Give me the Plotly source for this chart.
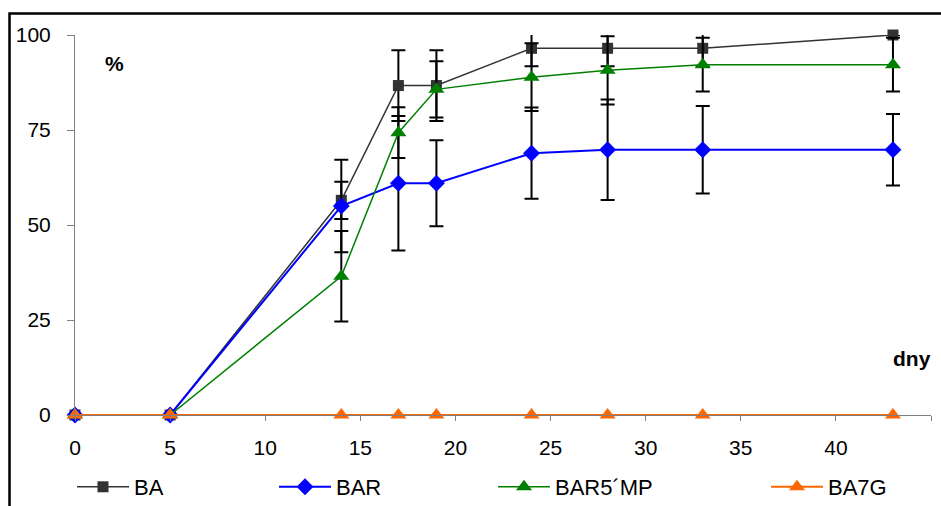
import plotly.graph_objects as go

days = [0, 5, 14, 17, 19, 24, 28, 33, 43]
ba = [0, 0, 56.5, 86.7, 86.7, 96.5, 96.5, 96.5, 100]
ba_err = [0, 0, 4.9, 9.3, 9.3, 4.7, 4.7, 4.8, 0]
bar = [0, 0, 55.0, 61.0, 61.0, 68.9, 69.8, 69.8, 69.8]
bar_err = [0, 0, 12.2, 17.7, 11.3, 12.0, 13.2, 11.5, 9.4]
bar5 = [0, 0, 36.5, 74.3, 85.7, 88.9, 90.7, 92.2, 92.2]
bar5_err = [0, 0, 11.9, 6.7, 7.4, 8.9, 9.0, 7.1, 7.1]
ba7g = [0, 0, 0, 0, 0, 0, 0, 0, 0]

names = ["BA", "BAR", "BAR5´MP", "BA7G"]
x_ticks = [0, 5, 10, 15, 20, 25, 30, 35, 40, 45]
y_ticks = [0, 25, 50, 75, 100]

FONT = "Liberation Sans, Arial, sans-serif"

fig = go.Figure()

def err(vals):
    return dict(type="data", array=vals, visible=True, color="black", thickness=2, width=7)

fig.add_trace(go.Scatter(x=days, y=ba, name=names[0], mode="lines+markers",
                         line=dict(color="#333333", width=1.5),
                         marker=dict(symbol="square", size=11, color="#333333"),
                         error_y=err(ba_err), cliponaxis=False, legend="legend"))
fig.add_trace(go.Scatter(x=days, y=bar, name=names[1], mode="lines+markers",
                         line=dict(color="#0000FF", width=2),
                         marker=dict(symbol="diamond", size=13, color="#0000FF"),
                         error_y=err(bar_err), cliponaxis=False, legend="legend2"))
fig.add_trace(go.Scatter(x=days, y=bar5, name=names[2], mode="lines+markers",
                         line=dict(color="#008000", width=1.5),
                         marker=dict(symbol="triangle-up", size=14, color="#008000"),
                         error_y=err(bar5_err), cliponaxis=False, legend="legend3"))
fig.add_trace(go.Scatter(x=days, y=ba7g, name=names[3], mode="lines+markers",
                         line=dict(color="#FF6600", width=2),
                         marker=dict(symbol="triangle-up", size=14, color="#FF6600"),
                         cliponaxis=False, legend="legend4"))

L, R, T, B = 75, 10, 35, 91
W, H = 941, 506
pw, ph = W - L - R, H - T - B

def px_x(p):
    return (p - L) / pw

def px_y(p):
    return (H - B - p) / ph

leg_common = dict(orientation="h", xanchor="left", yanchor="middle",
                  font=dict(family=FONT, size=22, color="black"),
                  bgcolor="rgba(0,0,0,0)", itemwidth=52)
legend_x = [72, 274, 493, 766]

layout_legends = {}
for i, lx in enumerate(legend_x):
    key = "legend" if i == 0 else f"legend{i+1}"
    layout_legends[key] = dict(leg_common, x=px_x(lx), y=px_y(487))

fig.update_layout(
    width=W, height=H,
    margin=dict(l=L, r=R, t=T, b=B, autoexpand=False),
    paper_bgcolor="white", plot_bgcolor="white",
    font=dict(family=FONT, size=21, color="black"),
    showlegend=True,
    xaxis=dict(range=[0, 45], tickvals=x_ticks, ticktext=[str(v) for v in x_ticks],
               showgrid=False, zeroline=False, showline=True, linecolor="#808080",
               linewidth=1, ticks="outside", ticklen=5, tickcolor="#808080",
               tickfont=dict(family=FONT, size=21), ticklabelstandoff=9),
    yaxis=dict(range=[0, 100], tickvals=y_ticks, ticktext=[str(v) for v in y_ticks],
               showgrid=False, zeroline=False, showline=True, linecolor="#808080",
               linewidth=1, ticks="outside", ticklen=7, tickcolor="#808080",
               tickfont=dict(family=FONT, size=21), ticklabelstandoff=12),
    annotations=[
        dict(text="<b>%</b>", x=px_x(114), y=px_y(63), xref="paper", yref="paper",
             xanchor="center", yanchor="middle",
             showarrow=False, font=dict(family=FONT, size=21, color="black")),
        dict(text="<b>dny</b>", x=px_x(912), y=px_y(358), xref="paper", yref="paper",
             xanchor="center", yanchor="middle",
             showarrow=False, font=dict(family=FONT, size=21, color="black")),
    ],
    shapes=[dict(type="rect", xref="paper", yref="paper",
                 x0=px_x(9.5), x1=px_x(950), y0=px_y(515), y1=px_y(13.5),
                 line=dict(color="black", width=2.5), fillcolor="rgba(0,0,0,0)",
                 layer="below")],
    **layout_legends,
)

fig.write_html("out.html", config={"displayModeBar": False},
               post_script="document.body.style.margin='0';document.body.style.overflow='hidden';")
